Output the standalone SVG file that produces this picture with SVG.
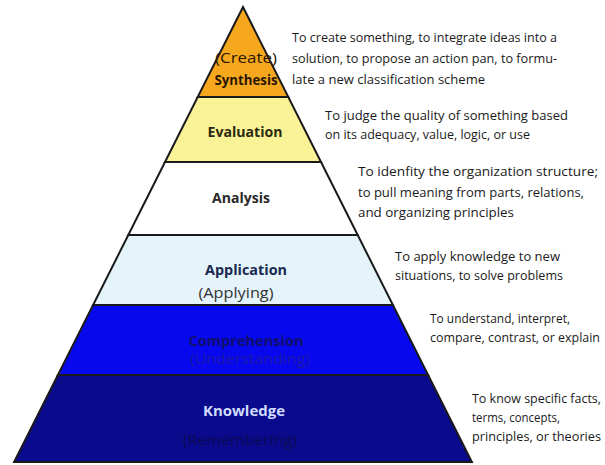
<svg xmlns="http://www.w3.org/2000/svg" width="605" height="465" viewBox="0 0 605 465">
<style>
.band{stroke:#1a1a1a;stroke-width:2;stroke-linejoin:miter}
.lbl{font-family:"Open Sans","Liberation Sans",sans-serif;font-weight:bold;font-size:15px;text-anchor:middle}
.sub{font-family:"Open Sans","Liberation Sans",sans-serif;font-size:14px;text-anchor:middle}
.desc{font-family:"Open Sans","Liberation Sans",sans-serif;font-size:13px;fill:#1a1a1a}
.sm{font-size:12px}
</style>
<rect width="605" height="465" fill="#ffffff"/>
<g id="knowledge">
<polygon class="band" points="57.9,375 428.1,375 471.9,462 14.1,462" fill="#0a0a8c"/>
<text class="lbl" x="244" y="416" fill="#cfdcff" textLength="82" lengthAdjust="spacingAndGlyphs">Knowledge</text>
<text class="sub" x="240" y="445" fill="#0b0b55" textLength="114" lengthAdjust="spacingAndGlyphs">(Remembering)</text>
<text class="desc sm" x="472" y="403" textLength="129" lengthAdjust="spacingAndGlyphs">To know specific facts,</text>
<text class="desc sm" x="472" y="422" textLength="88" lengthAdjust="spacingAndGlyphs">terms, concepts,</text>
<text class="desc sm" x="472" y="441" textLength="129" lengthAdjust="spacingAndGlyphs">principles, or theories</text>
</g>
<g id="comprehension">
<polygon class="band" points="93.1,305 392.9,305 428.1,375 57.9,375" fill="#0808ee"/>
<text class="lbl" x="246" y="346" font-size="14" fill="#10106a" textLength="115" lengthAdjust="spacingAndGlyphs">Comprehension</text>
<text class="sub" x="250" y="364" font-size="13" fill="#1a1aa8" textLength="120" lengthAdjust="spacingAndGlyphs">(Understanding)</text>
<text class="desc sm" x="430" y="323" textLength="140" lengthAdjust="spacingAndGlyphs">To understand, interpret,</text>
<text class="desc sm" x="430" y="342" textLength="170" lengthAdjust="spacingAndGlyphs">compare, contrast, or explain</text>
</g>
<g id="application">
<polygon class="band" points="128.3,235 357.7,235 392.9,305 93.1,305" fill="#e4f4fa"/>
<text class="lbl" x="246" y="275" fill="#1b2850" textLength="82" lengthAdjust="spacingAndGlyphs">Application</text>
<text class="sub" x="236" y="298" fill="#333333" textLength="75" lengthAdjust="spacingAndGlyphs">(Applying)</text>
<text class="desc" x="395" y="261" textLength="165" lengthAdjust="spacingAndGlyphs">To apply knowledge to new</text>
<text class="desc" x="395" y="280" textLength="168" lengthAdjust="spacingAndGlyphs">situations, to solve problems</text>
</g>
<g id="analysis">
<polygon class="band" points="165,162 321,162 357.7,235 128.3,235" fill="#ffffff"/>
<text class="lbl" x="241" y="203" fill="#2a2a2a" textLength="58" lengthAdjust="spacingAndGlyphs">Analysis</text>
<text class="desc" x="358" y="176" textLength="240" lengthAdjust="spacingAndGlyphs">To idenfity the organization structure;</text>
<text class="desc" x="358" y="197" textLength="226" lengthAdjust="spacingAndGlyphs">to pull meaning from parts, relations,</text>
<text class="desc" x="358" y="217" textLength="156" lengthAdjust="spacingAndGlyphs">and organizing principles</text>
</g>
<g id="evaluation">
<polygon class="band" points="197.7,97 288.3,97 321,162 165,162" fill="#faf296"/>
<text class="lbl" x="245" y="137" fill="#2a2a10" textLength="75" lengthAdjust="spacingAndGlyphs">Evaluation</text>
<text class="desc" x="325" y="120" textLength="243" lengthAdjust="spacingAndGlyphs">To judge the quality of something based</text>
<text class="desc" x="325" y="139" textLength="205" lengthAdjust="spacingAndGlyphs">on its adequacy, value, logic, or use</text>
</g>
<g id="synthesis">
<polygon class="band" points="243,7 288.3,97 197.7,97" fill="#f5a81e"/>
<text class="sub" x="246" y="63" fill="#2b1600" textLength="62" lengthAdjust="spacingAndGlyphs">(Create)</text>
<text class="lbl" x="246" y="85" fill="#2b1600" textLength="63" lengthAdjust="spacingAndGlyphs">Synthesis</text>
<text class="desc" x="292" y="42" textLength="265" lengthAdjust="spacingAndGlyphs">To create something, to integrate ideas into a</text>
<text class="desc" x="292" y="63" textLength="265" lengthAdjust="spacingAndGlyphs">solution, to propose an action pan, to formu-</text>
<text class="desc" x="292" y="84" textLength="193" lengthAdjust="spacingAndGlyphs">late a new classification scheme</text>
</g>
</svg>
